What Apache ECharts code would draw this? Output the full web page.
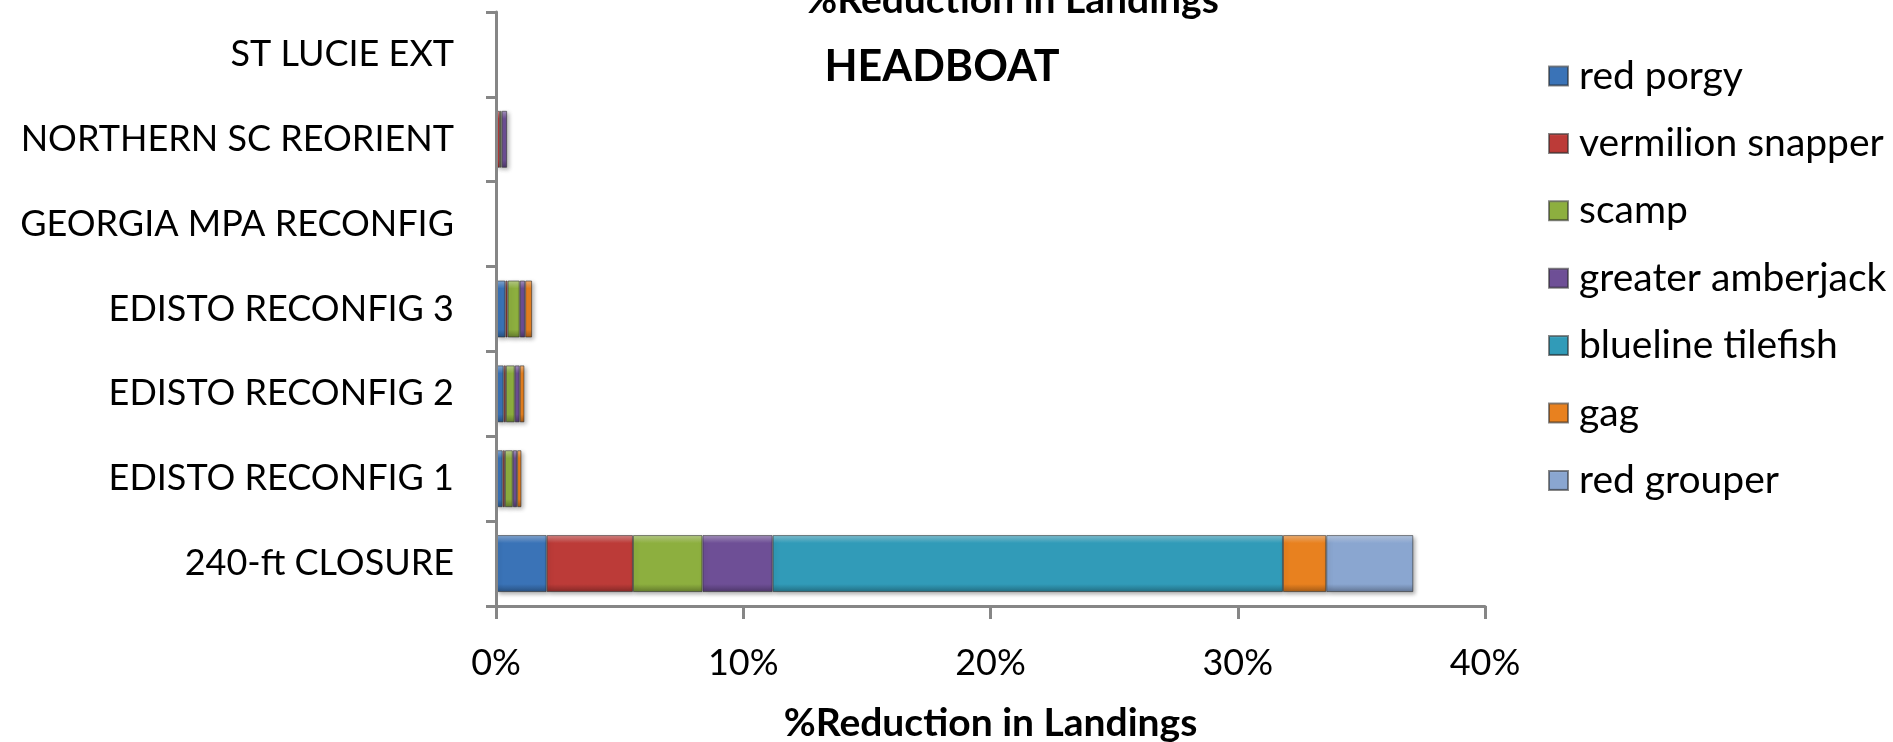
<!DOCTYPE html>
<html>
<head>
<meta charset="utf-8">
<script src="https://cdn.jsdelivr.net/npm/echarts@6.0.0/dist/echarts.min.js"></script>
<style>
html,body{margin:0;padding:0;background:#fff;}
#chart{width:1893px;height:742px;}
</style>
</head>
<body>
<div id="chart"></div>
<script>
// ---- data ----
const categories = ['240-ft CLOSURE', 'EDISTO RECONFIG 1', 'EDISTO RECONFIG 2', 'EDISTO RECONFIG 3', 'GEORGIA MPA RECONFIG', 'NORTHERN SC REORIENT', 'ST LUCIE EXT'];
const seriesNames = ['red porgy', 'vermilion snapper', 'scamp', 'greater amberjack', 'blueline tilefish', 'gag', 'red grouper'];
const redPorgy         = [2.05, 0.27, 0.31, 0.38, 0, 0.04, 0];
const vermilionSnapper = [3.49, 0.09, 0.09, 0.09, 0, 0.12, 0];
const scamp            = [2.81, 0.32, 0.36, 0.49, 0, 0.07, 0];
const greaterAmberjack = [2.84, 0.175, 0.20, 0.22, 0, 0.22, 0];
const bluelineTilefish = [20.64, 0, 0, 0, 0, 0, 0];
const gag              = [1.75, 0.175, 0.19, 0.28, 0, 0, 0];
const redGrouper       = [3.52, 0, 0, 0, 0, 0, 0];
const xTicks = [0, 10, 20, 30, 40];
const titleText = '%Reduction in Landings';
const subTitle = 'HEADBOAT';

const values = [redPorgy, vermilionSnapper, scamp, greaterAmberjack, bluelineTilefish, gag, redGrouper];
const colors = ['#3A73B7', '#BC3B38', '#8DAF3F', '#6E4F96', '#319BB8', '#E8811F', '#8AA6D0'];

function shade(hex, f) {
  const n = parseInt(hex.slice(1), 16);
  let r = (n >> 16) & 255, g = (n >> 8) & 255, b = n & 255;
  if (f > 0) { r += (255 - r) * f; g += (255 - g) * f; b += (255 - b) * f; }
  else { r *= (1 + f); g *= (1 + f); b *= (1 + f); }
  return 'rgb(' + Math.round(r) + ',' + Math.round(g) + ',' + Math.round(b) + ')';
}
function grad(c) {
  return new echarts.graphic.LinearGradient(0, 0, 0, 1, [
    { offset: 0, color: shade(c, 0.4) },
    { offset: 0.14, color: c },
    { offset: 0.86, color: c },
    { offset: 1, color: shade(c, -0.3) }
  ]);
}

const FONT = 'Lato, "Open Sans", sans-serif';
const chart = echarts.init(document.getElementById('chart'));
const series = seriesNames.map((name, i) => ({
  name: name,
  type: 'bar',
  stack: 'total',
  barWidth: 57,
  data: values[i].map(v => v === 0 ? null : v),
  itemStyle: {
    color: grad(colors[i]),
    borderColor: 'rgba(40,40,40,0.55)',
    borderWidth: 1,
    shadowColor: 'rgba(0,0,0,0.3)',
    shadowBlur: 4,
    shadowOffsetX: 2,
    shadowOffsetY: 2
  },
  emphasis: { disabled: true }
}));

chart.setOption({
  animation: false,
  backgroundColor: '#fff',
  color: colors,
  grid: { left: 496, right: 408, top: 12, bottom: 136, containLabel: false, outerBoundsMode: 'none' },
  xAxis: {
    type: 'value',
    min: xTicks[0],
    max: xTicks[xTicks.length - 1],
    interval: xTicks[1] - xTicks[0],
    axisLine: { show: true, lineStyle: { color: '#868686', width: 3 } },
    axisTick: { show: true, length: 13, lineStyle: { color: '#868686', width: 3 } },
    splitLine: { show: false },
    axisLabel: { formatter: '{value}%', fontFamily: FONT, fontSize: 36, color: '#000', margin: 39 },
    name: titleText,
    nameLocation: 'middle',
    nameGap: 98,
    nameTextStyle: { fontFamily: FONT, fontSize: 39, fontWeight: 'bold', color: '#000' }
  },
  yAxis: {
    type: 'category',
    data: categories,
    z: 5,
    axisLine: { show: true, lineStyle: { color: '#868686', width: 3 } },
    axisTick: { show: true, length: 10, lineStyle: { color: '#868686', width: 3 } },
    axisLabel: { fontFamily: FONT, fontSize: 36, color: '#000', margin: 42 }
  },
  legend: {
    orient: 'vertical',
    left: 1543,
    top: 51,
    itemWidth: 19,
    itemHeight: 19,
    itemGap: 27.4,
    icon: 'rect',
    textStyle: { fontFamily: FONT, fontSize: 39, color: '#000', lineHeight: 40, padding: [0, 0, 0, 6] },
    data: seriesNames
  },
  graphic: [
    { type: 'text', style: { text: titleText, x: 1012, y: 20, textAlign: 'center', textVerticalAlign: 'bottom', font: 'bold 39px ' + FONT, fill: '#000' }, z: 10 },
    { type: 'text', style: { text: subTitle, x: 942, y: 67, textAlign: 'center', textVerticalAlign: 'middle', font: 'bold 43px ' + FONT, fill: '#000' }, z: 10 }
  ],
  series: series
});
</script>
</body>
</html>
